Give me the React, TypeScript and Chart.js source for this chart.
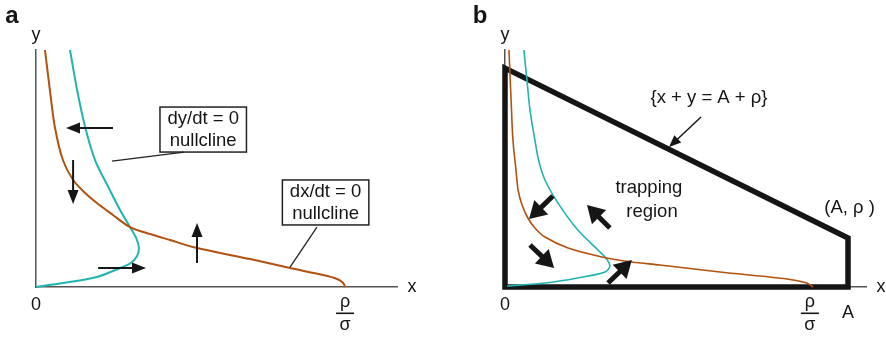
import React, { useEffect, useRef } from "react";
import { Chart, registerables } from "chart.js";
Chart.register(...registerables);

type Pt = [number, number];

const FONT = '"Liberation Sans", Arial, Helvetica, sans-serif';
const ORANGE = "#b3510f";
const CYAN = "#20b4b0";
const AXIS = "#555555";
const INK = "#151515";

// shared parameters (schematic units)
const RHO_SIGMA = 10; // x-intercept of dx/dt = 0 nullcline
const Y_MAX = 15.7;
const A_VAL = 11.25;
const RHO = 3.25;

// ---------- panel a ----------
const X_MAX_A = 11.68;
const dxNullA: Pt[] = [
  [0.29, 15.7], [0.45, 13.05], [0.61, 10.6], [0.87, 8.41], [1.2, 7.09], [1.59, 6.23],
  [1.97, 5.56], [2.49, 4.77], [3.04, 3.97], [3.69, 3.51], [4.34, 3.11], [5.21, 2.58],
  [6.93, 1.85], [8.22, 1.26], [9.29, 0.79], [9.74, 0.53], [9.94, 0.26], [10.0, 0.0],
];
const dyNullA: Pt[] = [
  [1.1, 15.7], [1.33, 13.05], [1.59, 10.6], [1.91, 8.41], [2.39, 6.42],
  [2.72, 5.1], [3.04, 3.97], [3.24, 3.25], [3.33, 2.58], [3.27, 2.05], [3.07, 1.59],
  [2.72, 1.26], [1.97, 0.66], [0.87, 0.26], [0.0, 0.0],
];
const flowArrowsA: [Pt, Pt][] = [
  [[2.49, 10.53], [0.97, 10.53]],
  [[1.2, 8.41], [1.2, 5.5]],
  [[2.01, 1.26], [3.56, 1.26]],
  [[5.21, 1.59], [5.21, 4.24]],
];
const labelBoxesA = [
  { lines: ["dy/dt = 0", "nullcline"], at: [5.41, 10.43] as Pt, leader: [[4.79, 8.94], [2.46, 8.34]] as [Pt, Pt] },
  { lines: ["dx/dt = 0", "nullcline"], at: [9.37, 5.6] as Pt, leader: [[9.09, 3.97], [8.22, 1.32]] as [Pt, Pt] },
];

// ---------- panel b ----------
const X_MAX_B = 11.84;
const dxNullB: Pt[] = [
  [0.13, 15.7], [0.2, 12.38], [0.26, 9.74], [0.36, 7.75], [0.43, 6.42], [0.56, 5.43],
  [0.75, 4.57], [0.98, 3.91], [1.31, 3.31], [2.07, 2.58], [3.18, 1.99], [4.16, 1.66],
  [5.08, 1.46], [7.05, 0.99], [9.25, 0.53], [9.9, 0.26], [10.1, 0.0],
];
const dyNullB: Pt[] = [
  [0.62, 15.7], [0.72, 13.7], [0.82, 11.72], [0.98, 9.74], [1.1, 8.41], [1.31, 7.09],
  [1.74, 5.56], [2.39, 3.77], [3.05, 2.45], [3.31, 1.92], [3.44, 1.39], [3.28, 0.99],
  [2.39, 0.6], [1.31, 0.26], [0.07, 0.07],
];
const trapRegion: Pt[] = [
  [0, 0], [0, A_VAL + RHO], [A_VAL, RHO], [A_VAL, 0], [0, 0],
];
const flowArrowsB: [Pt, Pt][] = [
  [[1.57, 6.03], [0.79, 4.5]],
  [[3.44, 3.91], [2.69, 5.43]],
  [[0.82, 2.78], [1.61, 1.26]],
  [[3.38, 0.26], [4.16, 1.79]],
];
const leaderArrowB: [Pt, Pt] = [[6.43, 11.26], [5.38, 9.27]];
const textsB = [
  { text: "{x + y = A + ρ}", at: [6.69, 12.5] as Pt },
  { text: "trapping", at: [4.72, 6.56] as Pt },
  { text: "region", at: [4.82, 4.97] as Pt },
  { text: "(A, ρ )", at: [11.3, 5.23] as Pt },
];

type Panel = {
  letter: string;
  xMax: number;
  xTicks: { value: number; label: string; frac?: [string, string] }[];
  flowArrows: [Pt, Pt][];
  thick: boolean;
  boxes: { lines: string[]; at: Pt; leader: [Pt, Pt] }[];
  texts: { text: string; at: Pt }[];
  leaderArrow?: [Pt, Pt];
};

function drawArrow(ctx: CanvasRenderingContext2D, a: Pt, b: Pt, shaft: number, headLen: number, headHalf: number) {
  const dx = b[0] - a[0];
  const dy = b[1] - a[1];
  const L = Math.hypot(dx, dy);
  const ux = dx / L;
  const uy = dy / L;
  const bx = b[0] - ux * headLen;
  const by = b[1] - uy * headLen;
  ctx.beginPath();
  ctx.lineWidth = shaft;
  ctx.lineCap = "butt";
  ctx.moveTo(a[0], a[1]);
  ctx.lineTo(bx + ux * 2, by + uy * 2);
  ctx.stroke();
  ctx.beginPath();
  ctx.moveTo(b[0], b[1]);
  ctx.lineTo(bx - uy * headHalf, by + ux * headHalf);
  ctx.lineTo(bx + uy * headHalf, by - ux * headHalf);
  ctx.closePath();
  ctx.fill();
}

function makeOverlay(panel: Panel) {
  return {
    id: "overlay" + panel.letter,
    afterDatasetsDraw(chart: any) {
      const { ctx, scales } = chart;
      const xs = scales.x;
      const ys = scales.y;
      const P = (p: Pt): Pt => [xs.getPixelForValue(p[0]), ys.getPixelForValue(p[1])];
      const base = ys.getPixelForValue(0);
      const left = xs.getPixelForValue(0);
      ctx.save();
      ctx.fillStyle = INK;
      ctx.strokeStyle = INK;
      ctx.textAlign = "center";
      ctx.textBaseline = "middle";

      // panel letter
      ctx.font = `bold 24px ${FONT}`;
      ctx.fillText(panel.letter, panel.letter === "a" ? 12 : 40, 16);

      // axis names
      ctx.font = `18px ${FONT}`;
      ctx.fillText("y", left, 35);
      ctx.fillText("x", xs.right + 15, base);

      // tick labels
      for (const t of panel.xTicks) {
        const px = xs.getPixelForValue(t.value);
        if (t.frac) {
          ctx.fillText(t.frac[0], px, base + 15);
          ctx.fillRect(px - 9, base + 25.5, 18, 1.6);
          ctx.fillText(t.frac[1], px, base + 38);
        } else {
          ctx.fillText(t.label, px, base + (t.label === "0" ? 18 : 26));
        }
      }

      // flow arrows
      for (const [a, b] of panel.flowArrows) {
        if (panel.thick) drawArrow(ctx, P(a), P(b), 5, 17, 10);
        else drawArrow(ctx, P(a), P(b), 2, 14, 5.5);
      }

      // label boxes with leaders
      ctx.font = `18.5px ${FONT}`;
      for (const box of panel.boxes) {
        const [cx, cy] = P(box.at);
        const w = Math.max(...box.lines.map((l) => ctx.measureText(l).width)) + 15;
        const h = 45;
        ctx.lineWidth = 1.5;
        ctx.strokeStyle = "#222";
        ctx.fillStyle = "#ffffff";
        ctx.fillRect(cx - w / 2, cy - h / 2, w, h);
        ctx.strokeRect(cx - w / 2, cy - h / 2, w, h);
        ctx.fillStyle = INK;
        ctx.fillText(box.lines[0], cx, cy - 11);
        ctx.fillText(box.lines[1], cx, cy + 11);
        const [l0, l1] = [P(box.leader[0]), P(box.leader[1])];
        ctx.lineWidth = 1.3;
        ctx.beginPath();
        ctx.moveTo(l0[0], l0[1]);
        ctx.lineTo(l1[0], l1[1]);
        ctx.stroke();
      }

      // free texts
      for (const t of panel.texts) {
        const [tx, ty] = P(t.at);
        ctx.fillText(t.text, tx, ty);
      }

      if (panel.leaderArrow) {
        drawArrow(ctx, P(panel.leaderArrow[0]), P(panel.leaderArrow[1]), 1.5, 12, 5);
      }
      ctx.restore();
    },
  };
}

function buildConfig(panel: Panel, curves: { data: Pt[]; color: string; width: number }[], extra: any[]) {
  const datasets: any[] = curves.map((c) => ({
    data: c.data.map(([x, y]) => ({ x, y })),
    showLine: true,
    borderColor: c.color,
    borderWidth: c.width,
    pointRadius: 0,
    tension: 0.3,
    fill: false,
    clip: false,
  }));
  const axis = (max: number) => ({
    type: "linear",
    min: 0,
    max,
    grid: { display: false, drawTicks: false },
    ticks: { display: false },
    border: { display: true, color: AXIS, width: 1.5 },
  });
  return {
    type: "scatter" as const,
    data: { datasets: [...datasets, ...extra] },
    options: {
      animation: false,
      responsive: false,
      devicePixelRatio: 1,
      events: [],
      layout: { padding: { left: panel.letter === "a" ? 36 : 65, right: panel.letter === "a" ? 43 : 20, top: 50, bottom: 50 } },
      plugins: { legend: { display: false }, tooltip: { enabled: false } },
      scales: { x: axis(panel.xMax), y: axis(Y_MAX) },
    },
    plugins: [makeOverlay(panel)],
  };
}

export default function App() {
  const refA = useRef<HTMLCanvasElement>(null);
  const refB = useRef<HTMLCanvasElement>(null);

  useEffect(() => {
    document.body.style.margin = "0";
    const panelA: Panel = {
      letter: "a",
      xMax: X_MAX_A,
      xTicks: [
        { value: 0, label: "0" },
        { value: RHO_SIGMA, label: "ρ/σ", frac: ["ρ", "σ"] },
      ],
      flowArrows: flowArrowsA,
      thick: false,
      boxes: labelBoxesA,
      texts: [],
    };
    const panelB: Panel = {
      letter: "b",
      xMax: X_MAX_B,
      xTicks: [
        { value: 0, label: "0" },
        { value: RHO_SIGMA, label: "ρ/σ", frac: ["ρ", "σ"] },
        { value: A_VAL, label: "A" },
      ],
      flowArrows: flowArrowsB,
      thick: true,
      boxes: [],
      texts: textsB,
      leaderArrow: leaderArrowB,
    };
    const chartA = new Chart(
      refA.current!,
      buildConfig(
        panelA,
        [
          { data: dxNullA, color: ORANGE, width: 2 },
          { data: dyNullA, color: CYAN, width: 2 },
        ],
        []
      ) as any
    );
    const chartB = new Chart(
      refB.current!,
      buildConfig(
        panelB,
        [
          { data: dxNullB, color: ORANGE, width: 1.6 },
          { data: dyNullB, color: CYAN, width: 1.6 },
        ],
        [
          {
            data: trapRegion.map(([x, y]) => ({ x, y })),
            showLine: true,
            borderColor: INK,
            borderWidth: 5.5,
            borderJoinStyle: "miter",
            borderCapStyle: "square",
            pointRadius: 0,
            tension: 0,
            fill: false,
            clip: false,
          },
        ]
      ) as any
    );
    return () => {
      chartA.destroy();
      chartB.destroy();
    };
  }, []);

  return (
    <div style={{ position: "relative", width: 886, height: 337, background: "#fff" }}>
      <canvas ref={refA} width={440} height={337} style={{ position: "absolute", left: 0, top: 0 }} />
      <canvas ref={refB} width={446} height={337} style={{ position: "absolute", left: 440, top: 0 }} />
    </div>
  );
}
